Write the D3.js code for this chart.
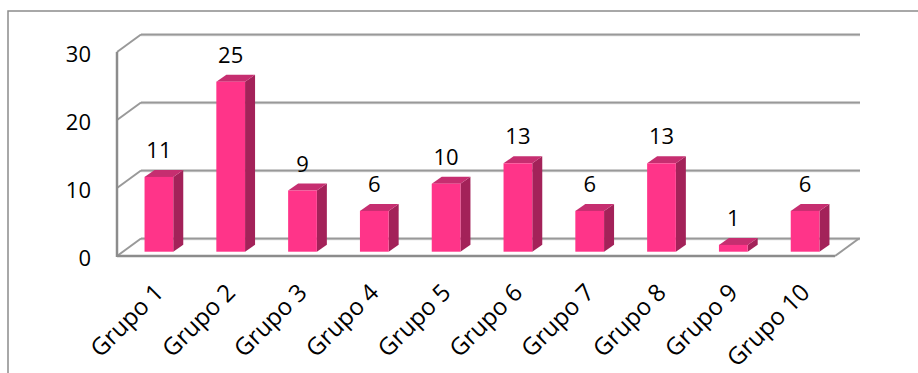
<!DOCTYPE html>
<html>
<head>
<meta charset="utf-8">
<script src="https://cdn.jsdelivr.net/npm/d3@7"></script>
<style>
  body { margin: 0; background: #fff; }
  text { font-family: "Open Sans", "Liberation Sans", Arial, sans-serif; fill: #000; }
</style>
</head>
<body>
<div id="chart"></div>
<script>
// data
var groups = ["Grupo 1", "Grupo 2", "Grupo 3", "Grupo 4", "Grupo 5",
              "Grupo 6", "Grupo 7", "Grupo 8", "Grupo 9", "Grupo 10"];
var counts = [11, 25, 9, 6, 10, 13, 6, 13, 1, 6];
var yTicks = [0, 10, 20, 30];

var W = 918, H = 373;
var left = 117, right = 835;          // front edge of the floor
var depthX = 24, depthY = -17.5;      // wall / floor depth
var barOffX = 6, barOffY = -4.3;      // bars sit a little behind the front
var barDX = 10, barDY = -7;           // bar thickness

var svg = d3.select("#chart").append("svg")
    .attr("width", W)
    .attr("height", H);

// outer frame
svg.append("rect")
    .attr("x", 8).attr("y", 11)
    .attr("width", W + 20).attr("height", H + 20)
    .style("fill", "none")
    .style("stroke", "#8c8c8c")
    .style("stroke-width", 1.5);

var x = d3.scaleBand()
    .domain(groups)
    .range([0, right - left])
    .paddingInner(0.6)
    .paddingOuter(0.3);

var y = d3.scaleLinear()
    .domain([0, 30])
    .range([256, 52]);

var grid = svg.append("g");

// back gridlines + left wall diagonals
yTicks.forEach(function(t) {
    var yf = y(t);
    grid.append("line")
        .attr("x1", left + depthX).attr("y1", yf + depthY + 1)
        .attr("x2", right + depthX + 1).attr("y2", yf + depthY + 1)
        .style("stroke", "#d8d8d8").style("stroke-width", 1.5);
    grid.append("line")
        .attr("x1", left + depthX).attr("y1", yf + depthY)
        .attr("x2", right + depthX + 1).attr("y2", yf + depthY)
        .style("stroke", "#999").style("stroke-width", 2);
    grid.append("line")
        .attr("x1", left).attr("y1", yf)
        .attr("x2", left + depthX).attr("y2", yf + depthY)
        .style("stroke", "#999").style("stroke-width", 2);
});

// left wall front edge
grid.append("line")
    .attr("x1", left).attr("y1", y(30))
    .attr("x2", left).attr("y2", y(0) + 1)
    .style("stroke", "#8c8c8c").style("stroke-width", 2.5);

// floor front and right edges
grid.append("line")
    .attr("x1", left).attr("y1", y(0))
    .attr("x2", right).attr("y2", y(0))
    .style("stroke", "#8c8c8c").style("stroke-width", 2.5);
grid.append("line")
    .attr("x1", right).attr("y1", y(0))
    .attr("x2", right + depthX).attr("y2", y(0) + depthY)
    .style("stroke", "#999").style("stroke-width", 2);

// y tick labels
svg.append("g").selectAll("text")
    .data(yTicks)
    .enter().append("text")
    .attr("x", 91)
    .attr("y", function(d) { return y(d) + 2; })
    .attr("dy", "0.35em")
    .attr("text-anchor", "end")
    .style("font-size", "22px")
    .text(function(d) { return d; });

// bars
var bars = svg.append("g").selectAll("g")
    .data(counts)
    .enter().append("g");

var bw = x.bandwidth();
function barX(i) { return left + barOffX + x(groups[i]); }
function barBase() { return y(0) + barOffY; }
function barTop(d) { return y(d) + barOffY; }

// side
bars.append("path")
    .attr("d", function(d, i) {
        var x1 = barX(i) + bw, yb = barBase(), yt = barTop(d);
        return "M" + x1 + "," + yb + "L" + x1 + "," + yt +
               "L" + (x1 + barDX) + "," + (yt + barDY) +
               "L" + (x1 + barDX) + "," + (yb + barDY) + "Z";
    })
    .style("fill", "#a32259");

// top
bars.append("path")
    .attr("d", function(d, i) {
        var x0 = barX(i), yt = barTop(d);
        return "M" + x0 + "," + yt + "L" + (x0 + bw) + "," + yt +
               "L" + (x0 + bw + barDX) + "," + (yt + barDY) +
               "L" + (x0 + barDX) + "," + (yt + barDY) + "Z";
    })
    .style("fill", "#c62e70");

// front
bars.append("rect")
    .attr("x", function(d, i) { return barX(i); })
    .attr("y", function(d) { return barTop(d); })
    .attr("width", bw)
    .attr("height", function(d) { return barBase() - barTop(d); })
    .style("fill", "#ff3489");

// value labels
bars.append("text")
    .attr("x", function(d, i) { return barX(i) + bw / 2; })
    .attr("y", function(d) { return barTop(d) - 19; })
    .attr("text-anchor", "middle")
    .style("font-size", "22px")
    .text(function(d) { return d; });

// category labels, rotated
svg.append("g").selectAll("text")
    .data(groups)
    .enter().append("text")
    .attr("transform", function(d) {
        var cx = left + x(d) + bw / 2 + 12;
        return "translate(" + cx + ",294) rotate(-45)";
    })
    .attr("text-anchor", "end")
    .style("font-size", "24px")
    .text(function(d) { return d; });
</script>
</body>
</html>
